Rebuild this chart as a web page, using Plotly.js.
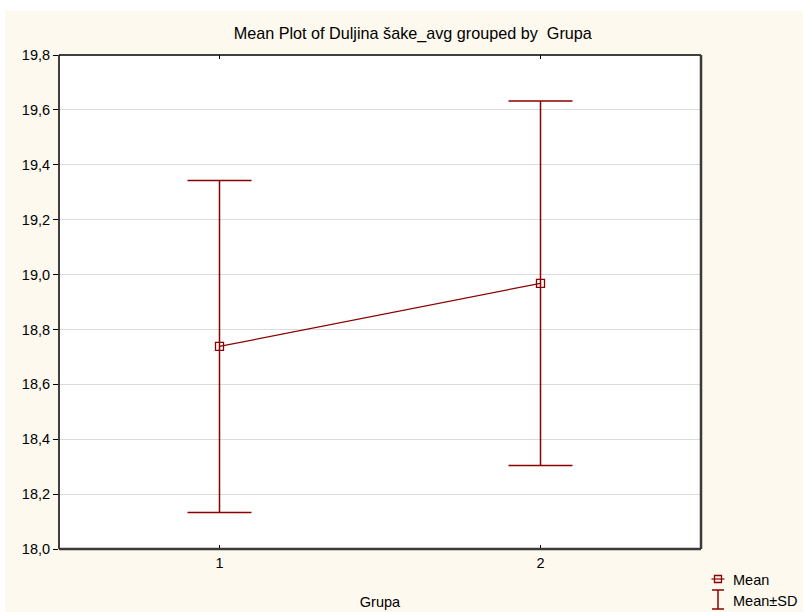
<!DOCTYPE html>
<html>
<head>
<meta charset="utf-8">
<script src="https://cdn.plot.ly/plotly-3.0.1.min.js"></script>
<style>
html,body{margin:0;padding:0;background:#ffffff;}
#chart{position:absolute;left:5px;top:11px;width:798px;height:601px;}
</style>
</head>
<body>
<div id="chart"></div>
<script>
var groups = [1, 2];
var groupLabels = ['1', '2'];
var means = [18.738, 18.968];
var sds = [0.605, 0.664];
var yTicks = [18.0, 18.2, 18.4, 18.6, 18.8, 19.0, 19.2, 19.4, 19.6, 19.8];
var legendNames = ['Mean', 'Mean±SD'];

var red = '#8b0000';

var traceMean = {
  x: groups, y: means,
  type: 'scatter', mode: 'lines+markers',
  name: legendNames[0],
  line: {color: red, width: 1.2},
  marker: {symbol: 'square-open', size: 8, color: red, line: {width: 1.3, color: red}},
  error_y: {type: 'data', array: sds, visible: true, color: red, thickness: 1.5, width: 32},
  showlegend: false
};

// plot area in page px: x 58.5..701, y 55..549
function px(X){ return (X - 58.5) / 642.5; }
function py(Y){ return (549 - Y) / 494; }

var shapes = [
  // frame
  {type: 'line', xref: 'paper', yref: 'paper', x0: 0, x1: 0, y0: 0, y1: 1, line: {color: '#000000', width: 1.5}},
  {type: 'line', xref: 'paper', yref: 'paper', x0: 0, x1: 1, y0: 1, y1: 1, line: {color: '#000000', width: 1.5}},
  {type: 'line', xref: 'paper', yref: 'paper', x0: 1, x1: 1, y0: 0, y1: 1, line: {color: '#3a3a3a', width: 2.5}},
  {type: 'line', xref: 'paper', yref: 'paper', x0: 0, x1: 1, y0: 0, y1: 0, line: {color: '#3a3a3a', width: 2.5}},
  // legend icon: Mean
  {type: 'line', xref: 'paper', yref: 'paper', x0: px(711.5), x1: px(724.5), y0: py(579), y1: py(579), line: {color: red, width: 1.2}},
  {type: 'rect', xref: 'paper', yref: 'paper', x0: px(714.5), x1: px(721.5), y0: py(575.5), y1: py(582.5), fillcolor: 'rgba(0,0,0,0)', line: {color: red, width: 1.3}},
  // legend icon: Mean±SD
  {type: 'line', xref: 'paper', yref: 'paper', x0: px(718), x1: px(718), y0: py(590), y1: py(609), line: {color: red, width: 1.5}},
  {type: 'line', xref: 'paper', yref: 'paper', x0: px(712), x1: px(724), y0: py(590), y1: py(590), line: {color: red, width: 1.5}},
  {type: 'line', xref: 'paper', yref: 'paper', x0: px(712), x1: px(724), y0: py(609), y1: py(609), line: {color: red, width: 1.5}}
];

var annotations = [
  {xref: 'paper', yref: 'paper', x: px(731), y: py(580), xanchor: 'left', yanchor: 'middle', text: legendNames[0], showarrow: false, font: {size: 14.5, color: '#000'}},
  {xref: 'paper', yref: 'paper', x: px(731), y: py(601), xanchor: 'left', yanchor: 'middle', text: legendNames[1], showarrow: false, font: {size: 14.5, color: '#000'}}
];

var layout = {
  width: 798, height: 601,
  paper_bgcolor: '#fdf9ee',
  plot_bgcolor: '#ffffff',
  separators: ', ',
  font: {family: 'Arial, Liberation Sans, sans-serif', size: 14.5, color: '#000000'},
  margin: {l: 54, r: 102, t: 44, b: 63},
  title: {text: 'Mean Plot of Duljina šake_avg grouped by  Grupa', x: 0.511, xanchor: 'center', y: 0.963, yanchor: 'middle', font: {size: 16.2, color: '#000000'}},
  xaxis: {
    range: [0.5, 2.5], tickvals: groups, ticktext: groupLabels,
    ticks: 'inside', ticklen: 4, tickcolor: '#000000', mirror: 'ticks',
    showline: false,
    showgrid: false, zeroline: false, ticklabelstandoff: 3,
    title: {text: 'Grupa', standoff: 27, font: {size: 14.5}},
    tickfont: {size: 14.5}
  },
  yaxis: {
    range: [18.0, 19.8], tickvals: yTicks, tickformat: '.1f',
    ticks: 'outside', ticklen: 5, tickcolor: '#000000',
    showline: false,
    showgrid: true, gridcolor: '#dcdcdc', gridwidth: 1, zeroline: false,
    tickfont: {size: 14.5}
  },
  shapes: shapes,
  annotations: annotations,
  showlegend: false
};

Plotly.newPlot('chart', [traceMean], layout, {displayModeBar: false, staticPlot: true});
</script>
</body>
</html>
